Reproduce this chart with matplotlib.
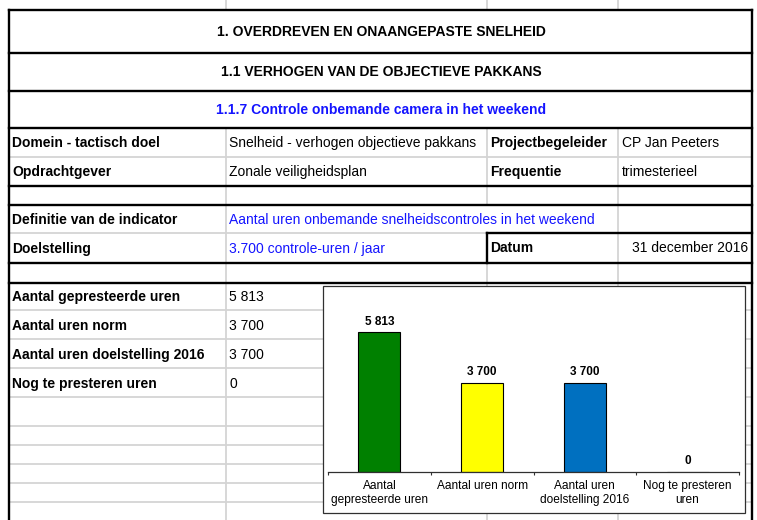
import matplotlib
matplotlib.use("Agg")
import matplotlib.pyplot as plt
from matplotlib.patches import Rectangle

plt.rcParams['font.family'] = ['Liberation Sans', 'DejaVu Sans']

# chart data
categories = ["Aantal\ngepresteerde uren", "Aantal uren norm",
              "Aantal uren\ndoelstelling 2016", "Nog te presteren\nuren"]
row_labels = ["Aantal gepresteerde uren", "Aantal uren norm",
              "Aantal uren doelstelling 2016", "Nog te presteren uren"]
values = [5813, 3700, 3700, 0]
bar_colors = ["#008000", "#ffff00", "#0070c0", "#ffffff"]

# sheet texts
titles = ["1. OVERDREVEN EN ONAANGEPASTE SNELHEID",
          "1.1 VERHOGEN VAN DE OBJECTIEVE PAKKANS",
          "1.1.7 Controle onbemande camera in het weekend"]
domein = "Snelheid - verhogen objectieve pakkans"
opdrachtgever = "Zonale veiligheidsplan"
begeleider = "CP Jan Peeters"
frequentie = "trimesterieel"
definitie = "Aantal uren onbemande snelheidscontroles in het weekend"
doelstelling = "3.700 controle-uren / jaar"
datum = "31 december 2016"

BLUE = "#1414ff"
GRID = "#d4d4d4"


def fmt(v):
    return f"{v:,}".replace(",", " ")


fig = plt.figure(figsize=(7.57, 5.2), dpi=100)
bg = fig.add_axes([0, 0, 1, 1])
bg.set_xlim(0, 757)
bg.set_ylim(520, 0)
bg.axis("off")

L, R = 9, 752
cA, cB, cC = 226, 487, 618
thick = dict(color="black", lw=1.7, solid_capstyle="projecting", zorder=3)
thin = dict(color=GRID, lw=1.3, zorder=1)

# gridlines
for y in [157, 310, 339, 368, 397, 426, 445, 464, 483, 502]:
    bg.plot([L, R], [y, y], **thin)
bg.plot([L, cC], [233, 233], **thin)
bg.plot([cA, cA], [128, 520], **thin)
bg.plot([cB, cB], [128, 205], **thin)
bg.plot([cB, cB], [263, 520], **thin)
bg.plot([cC, cC], [128, 520], **thin)
for x in [cA, cB, cC]:
    bg.plot([x, x], [0, 10], **thin)

# thick borders
for y in [10, 53, 91, 128, 186, 205, 263, 283]:
    bg.plot([L, R], [y, y], **thick)
bg.plot([cB, R], [233, 233], **thick)
bg.plot([cB, cB], [233, 263], **thick)
bg.plot([L, L], [10, 520], **thick)
bg.plot([R, R], [10, 520], **thick)

fs = 10
cx = (L + R) / 2 + 1
bg.text(cx, 32, titles[0], ha="center", va="center", fontsize=fs, fontweight="bold")
bg.text(cx, 72.5, titles[1], ha="center", va="center", fontsize=fs, fontweight="bold")
bg.text(cx, 110, titles[2], ha="center", va="center", fontsize=fs, fontweight="bold", color=BLUE)

def cell(x, y, s, **kw):
    bg.text(x, y, s, ha=kw.pop("ha", "left"), va="center", fontsize=fs, **kw)

cell(12, 143, "Domein - tactisch doel", fontweight="bold")
cell(229, 143, domein)
cell(490, 143, "Projectbegeleider", fontweight="bold")
cell(622, 143, begeleider)
cell(12, 172, "Opdrachtgever", fontweight="bold")
cell(229, 172, opdrachtgever)
cell(490, 172, "Frequentie", fontweight="bold")
cell(622, 172, frequentie)
cell(12, 219.5, "Definitie van de indicator", fontweight="bold")
cell(229, 219.5, definitie, color=BLUE)
cell(12, 248.5, "Doelstelling", fontweight="bold")
cell(229, 248.5, doelstelling, color=BLUE)
cell(490, 248.5, "Datum", fontweight="bold")
cell(748, 248.5, datum, ha="right")
for i, (lab, v) in enumerate(zip(row_labels, values)):
    y = 297 + 29 * i
    cell(12, y, lab, fontweight="bold")
    cell(229, y, fmt(v))

# chart frame
bg.add_patch(Rectangle((323, 286), 422, 227, facecolor="white",
                       edgecolor="#303030", lw=0.9, zorder=4))

ax = fig.add_axes([328 / 757, 48 / 520, 411 / 757, 172.8 / 520], zorder=5)
ax.patch.set_visible(False)
x = range(len(values))
bars = ax.bar(x, values, width=0.41, color=bar_colors, edgecolor="black", linewidth=0.8)
ax.bar_label(bars, labels=[fmt(v) for v in values], padding=3.5,
             fontsize=8.5, fontweight="bold")
ax.set_xlim(-0.5, 3.5)
ax.set_ylim(0, 7200)
for s in ["top", "left", "right"]:
    ax.spines[s].set_visible(False)
ax.spines["bottom"].set_color("#303030")
ax.spines["bottom"].set_linewidth(0.9)
ax.set_yticks([])
ax.set_xticks(list(x))
ax.set_xticklabels(categories, fontsize=8.6, linespacing=1.2)
ax.set_xticks([-0.5, 0.5, 1.5, 2.5, 3.5], minor=True)
ax.tick_params(axis="x", which="major", length=0, pad=6)
ax.tick_params(axis="x", which="minor", length=2.5, width=0.8, color="#303030")

fig.savefig("out.png", dpi=100)
